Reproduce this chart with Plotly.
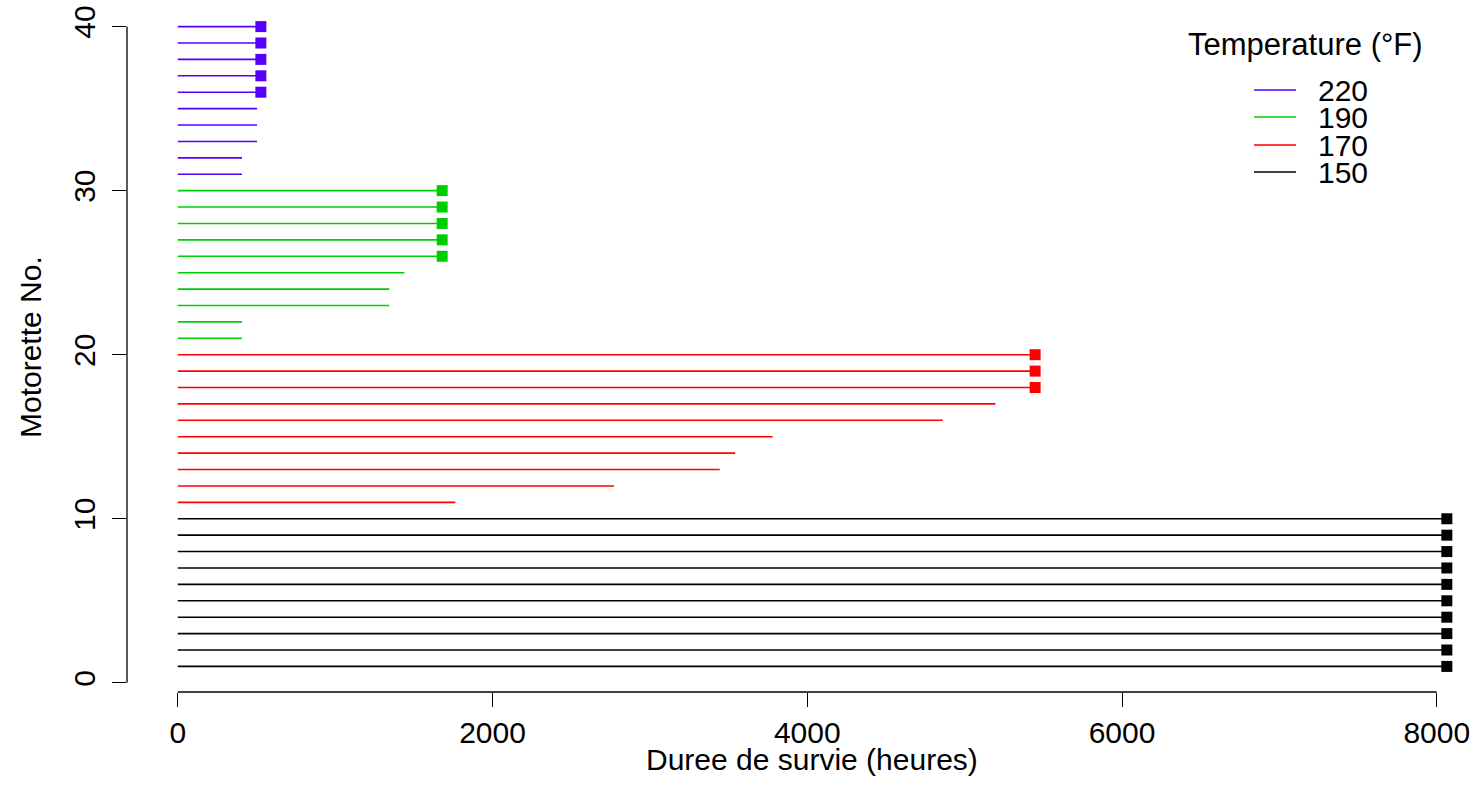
import plotly.graph_objects as go

# ---- data ----
motorette = list(range(1, 41))
temperature = [150] * 10 + [170] * 10 + [190] * 10 + [220] * 10
hours = ([8064] * 10 +
         [1764, 2772, 3444, 3542, 3780, 4860, 5196, 5448, 5448, 5448] +
         [408, 408, 1344, 1344, 1440, 1680, 1680, 1680, 1680, 1680] +
         [408, 408, 504, 504, 504, 528, 528, 528, 528, 528])
censored = ([1] * 10 +
            [0] * 7 + [1] * 3 +
            [0] * 5 + [1] * 5 +
            [0] * 5 + [1] * 5)
temp_levels = [220, 190, 170, 150]
temp_colors = {220: "#5500FF", 190: "#00CD00", 170: "#FF0000", 150: "#000000"}
x_ticks = [0, 2000, 4000, 6000, 8000]
y_ticks = [0, 10, 20, 30, 40]

FONT = "Liberation Sans, Arial, Helvetica, sans-serif"
FS = 30
W, H = 1476, 803
L, R, T, B = 127, 0, 1, 111
PW, PH = W - L - R, H - T - B

fig = go.Figure()
for tl in temp_levels:
    xs, ys, cx, cy = [], [], [], []
    for m, t, h, c in zip(motorette, temperature, hours, censored):
        if t != tl:
            continue
        xs += [0, h, None]
        ys += [m, m, None]
        if c:
            cx.append(h)
            cy.append(m)
    fig.add_trace(go.Scatter(x=xs, y=ys, mode="lines",
                             line=dict(color=temp_colors[tl], width=1.6),
                             showlegend=False, hoverinfo="skip"))
    fig.add_trace(go.Scatter(x=cx, y=cy, mode="markers",
                             marker=dict(symbol="square", size=11, color=temp_colors[tl],
                                         line=dict(width=0)),
                             showlegend=False))

# axis ranges (R style 4% extension on the left/bottom)
xmin, xmax_data = 0, max(hours)
xpad = 0.04 * (xmax_data - xmin)
scale = (1437 - 178) / 8000.0  # px per hour
x_lo = xmin - xpad
x_hi = x_lo + PW / scale
ypad = 0.04 * (40 - 1)
y_lo, y_hi = 1 - ypad, 40 + ypad

fig.update_xaxes(range=[x_lo, x_hi], tickvals=x_ticks, ticktext=[str(v) for v in x_ticks],
                 ticks="outside", ticklen=14, tickwidth=1.3, tickcolor="black",
                 showgrid=False, zeroline=False, showline=False,
                 tickfont=dict(family=FONT, size=FS, color="black"))
fig.update_yaxes(range=[y_lo, y_hi], tickvals=y_ticks, ticktext=[str(v) for v in y_ticks],
                 ticks="outside", ticklen=14, tickwidth=1.3, tickcolor="black",
                 tickangle=-90, ticklabelstandoff=5,
                 showgrid=False, zeroline=False, showline=False,
                 tickfont=dict(family=FONT, size=FS, color="black"))

# R-style axis lines spanning only tick range
fig.add_shape(type="line", xref="x", yref="paper", x0=x_ticks[0], x1=x_ticks[-1], y0=0, y1=0,
              line=dict(color="black", width=1.3))
fig.add_shape(type="line", xref="paper", yref="y", x0=0, x1=0, y0=y_ticks[0], y1=y_ticks[-1],
              line=dict(color="black", width=1.3))

annotations = [
    dict(text="Duree de survie (heures)", xref="paper", yref="paper",
         x=(812 - L) / PW, y=-(760 - (H - B)) / PH,
         showarrow=False, xanchor="center", yanchor="middle",
         font=dict(family=FONT, size=FS, color="black")),
    dict(text="Motorette No.", xref="paper", yref="paper",
         x=-(L - 30) / PW, y=(H - B - 347) / PH,
         showarrow=False, xanchor="center", yanchor="middle", textangle=-90,
         font=dict(family=FONT, size=FS, color="black")),
    dict(text="Temperature (°F)", xref="paper", yref="paper",
         x=(1305 - L) / PW, y=(H - B - 45) / PH,
         showarrow=False, xanchor="center", yanchor="middle",
         font=dict(family=FONT, size=FS + 1, color="black")),
]
# manual legend (R style, tight spacing)
row_y = [90, 117, 145, 172]
for tl, ry in zip(temp_levels, row_y):
    yp = (H - B - ry) / PH
    fig.add_shape(type="line", xref="paper", yref="paper",
                  x0=(1254 - L) / PW, x1=(1296 - L) / PW, y0=yp, y1=yp,
                  line=dict(color=temp_colors[tl], width=1.6))
    annotations.append(dict(text=str(tl), xref="paper", yref="paper",
                            x=(1316 - L) / PW, y=yp, height=26, valign="middle",
                            showarrow=False, xanchor="left", yanchor="middle",
                            font=dict(family=FONT, size=FS, color="black")))

fig.update_layout(width=W, height=H, margin=dict(l=L, r=R, t=T, b=B, pad=0),
                  plot_bgcolor="white", paper_bgcolor="white",
                  annotations=annotations, showlegend=False,
                  font=dict(family=FONT, size=FS, color="black"))

fig.write_html("out.html", config={"displayModeBar": False},
               post_script="document.body.style.margin='0px';"
                           "document.body.style.overflow='hidden';")
